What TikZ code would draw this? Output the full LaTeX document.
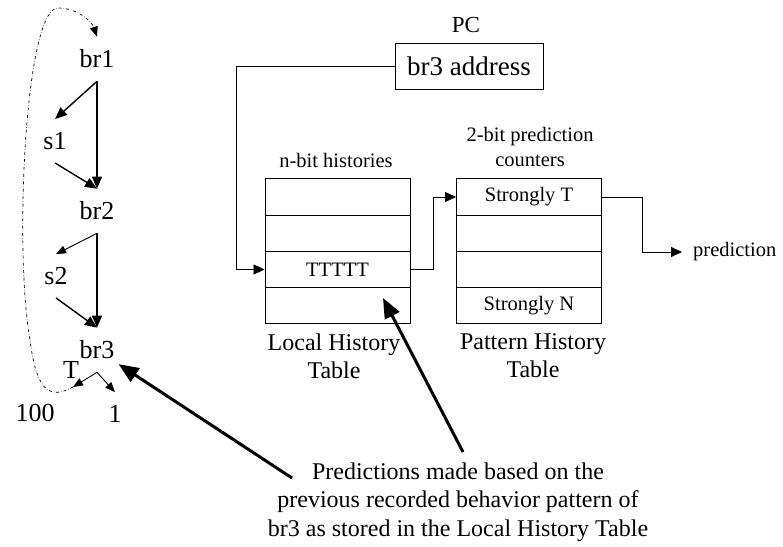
\documentclass[tikz,border=0pt]{standalone}
\usepackage{fontspec}
\setmainfont{Liberation Serif}
\usetikzlibrary{arrows.meta}

\begin{document}
\begin{tikzpicture}[x=1pt,y=-1pt,
        branch/.style={font=\fontsize{26}{30}\selectfont,inner xsep=4pt,inner ysep=13pt},
        cell/.style={draw=black,line width=0.9pt,minimum width=145pt,minimum height=36.25pt,inner sep=0pt,font=\fontsize{20.5}{24}\selectfont},
        flow/.style={line width=1.4pt,-{Triangle[length=12pt,width=10pt]}},
        thinflow/.style={line width=0.9pt,-{Triangle[length=10pt,width=8pt]}},
        feed/.style={line width=0.8pt,-{Triangle[length=11pt,width=10pt]}},
        pointer/.style={line width=3pt,-{Triangle[length=20pt,width=16pt]}}]
                            \useasboundingbox (0,0) rectangle (783,546);
                            \begin{scope}[every node/.style={branch}]
                                \node (br1) at (97,59) {br1};
                                \node (s1) at (55,141) {s1};
                                \node (br2) at (97,211) {br2};
                                \node (s2) at (56,276) {s2};
                                \node (br3) at (97,350) {br3};
                                \node (taken) at (71,370) {T};
                                \node (loops) at (35,413) {100};
                                \node (once) at (115,414) {1};
                            \end{scope}
                            \coordinate (tk) at (73,387);
                            \begin{scope}[every edge/.style={draw=black,flow}]
                                \draw (br1.south) edge (br2.north);
                                \draw (br1.south) edge (s1.north);
                                \draw (s1.south) edge (br2.north);
                                \draw (br2.south) edge (br3.north);
                                \draw (s2.south) edge (br3.north);
                            \end{scope}
                            \begin{scope}[every edge/.style={draw=black,thinflow}]
                                \draw (br2.south) edge (s2.north);
                                \draw (br3.south) edge (tk);
                                \draw (br3.south) edge (once.north);
                            \end{scope}
                            \draw[dash dot,line width=0.7pt,-{Triangle[length=10pt,width=8pt]}] (tk) .. controls (52,398) and (37,396) .. (30,340) .. controls (14,250) and (25,8) .. (58,8) .. controls (78,8) and (92,22) .. (br1.north);
                            \node[font=\fontsize{23}{26}\selectfont] (pc) at (466,25) {PC};
                            \node[draw=black,line width=0.9pt,minimum width=148pt,minimum height=46pt,inner sep=0pt,font=\fontsize{27}{30}\selectfont] (addr) at (469,66) {br3 address};
                            \begin{scope}[every node/.style={cell}]
                                \node (lht1) at (337.5,197) {};
                                \node (lht2) at (337.5,233.25) {};
                                \node (lht3) at (337.5,269.5) {TTTTT};
                                \node (lht4) at (337.5,305.75) {};
                                \node (pht1) at (529,197) {Strongly T};
                                \node (pht2) at (529,233.25) {};
                                \node (pht3) at (529,269.5) {};
                                \node (pht4) at (529,305.75) {Strongly N};
                            \end{scope}
                            \begin{scope}[every node/.style={align=center,font=\fontsize{20.5}{25}\selectfont}]
                                \node (hist) at (336,160) {n-bit histories};
                                \node (ctr) at (530,147) {2-bit prediction\\counters};
                                \node[anchor=west,inner xsep=11pt] (pred) at (682,252) {prediction};
                            \end{scope}
                            \begin{scope}[every node/.style={align=center,font=\fontsize{24}{28}\selectfont}]
                                \node (lhtname) at (334,356) {Local History\\Table};
                                \node (phtname) at (533,356) {Pattern History\\Table};
                                \node[font=\fontsize{24}{28.5}\selectfont] (note) at (458,502) {Predictions made based on the\\previous recorded behavior pattern of\\br3 as stored in the Local History Table};
                            \end{scope}
                            \draw[feed] (addr.west) -- ++(-158,0) |- (lht3.west);
                            \draw[feed] (lht3.east) -- ++(23,0) |- (pht1.west);
                            \draw[feed] (pht1.east) -- ++(40,0) |- (pred.west);
                            \coordinate (n1) at (292,478);
                            \coordinate (n2) at (463,452);
                            \coordinate (hit) at (383,298);
                            \draw[pointer] (n1) -- (br3);
                            \draw[pointer] (n2) -- (hit);
                        \end{tikzpicture}
\end{document}
